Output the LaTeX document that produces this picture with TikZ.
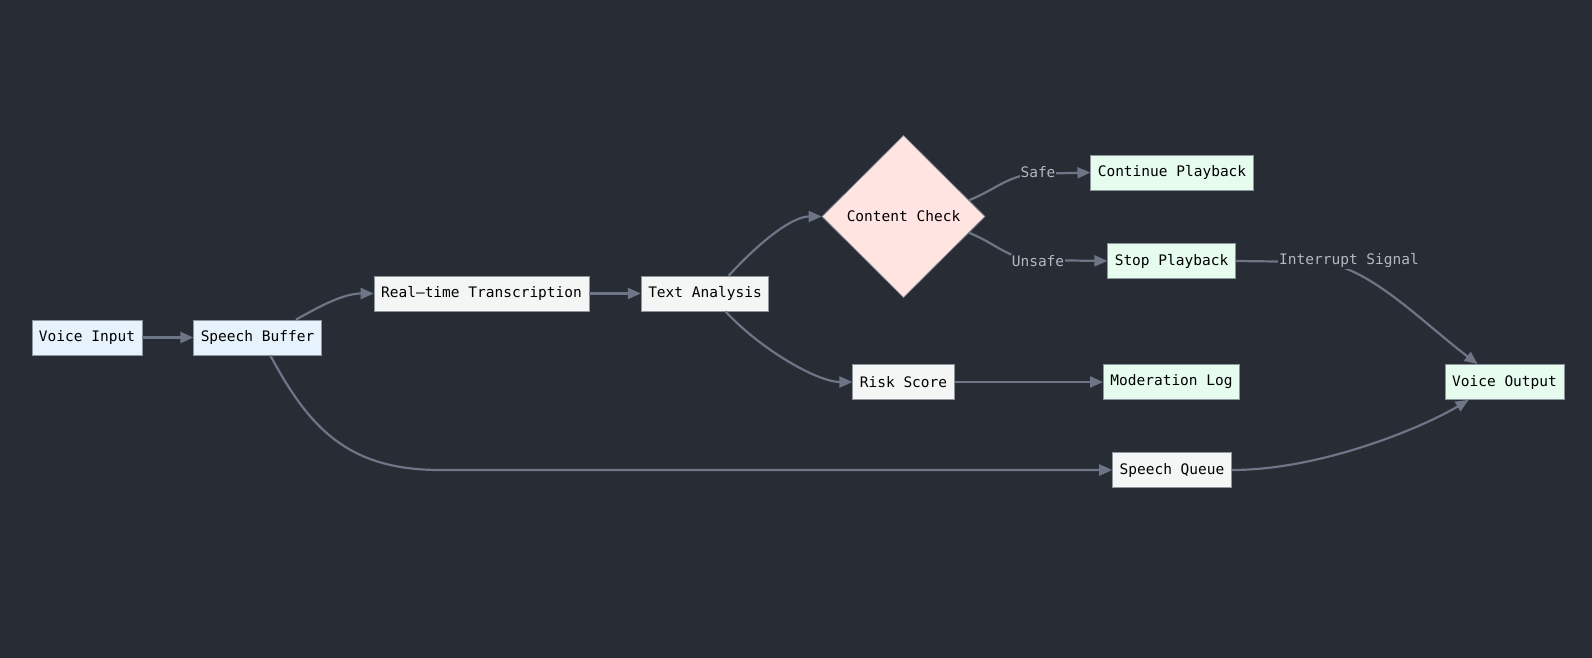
\documentclass[tikz,border=0pt]{standalone}
\usepackage{fontspec}
\newfontfamily\mono{DejaVu Sans Mono}
\usetikzlibrary{shapes.geometric,arrows.meta,calc}
\definecolor{bg}{HTML}{282C34}
\definecolor{edgec}{HTML}{6E7587}
\definecolor{lblc}{HTML}{B4B8C0}
\definecolor{bluef}{HTML}{E7F3FC}
\definecolor{grayf}{HTML}{F3F6F4}
\definecolor{greenf}{HTML}{E6FCEF}
\definecolor{pinkf}{HTML}{FFE4E1}
\definecolor{borderc}{HTML}{8E949C}
\begin{document}
\begin{tikzpicture}[x=1pt,y=-1pt,
  box/.style={draw=borderc,line width=0.8pt,minimum height=35pt,inner xsep=7pt,inner ysep=0pt,
    font=\mono\fontsize{14.5}{17}\selectfont,text=black},
  bluebox/.style={box,fill=bluef},
  graybox/.style={box,fill=grayf},
  greenbox/.style={box,fill=greenf},
  decision/.style={diamond,draw=borderc,line width=0.8pt,fill=pinkf,minimum width=163pt,minimum height=162pt,inner sep=0pt,
    font=\mono\fontsize{14.5}{17}\selectfont,text=black},
  edge/.style={draw=edgec,line width=2.2pt,-{Triangle[length=13pt,width=11pt]}},
  lbl/.style={fill=bg,text=lblc,inner sep=1pt,font=\mono\fontsize{14.5}{17}\selectfont}]
\fill[bg] (0,0) rectangle (1592,658);
\useasboundingbox (0,0) rectangle (1592,658);

\node[bluebox]  (vi) at (87,337.5)    {Voice Input};
\node[bluebox]  (sb) at (257.5,337.5) {Speech Buffer};
\node[graybox]  (rt) at (481.5,293.5) {Real–time Transcription};
\node[graybox]  (ta) at (705,293.5)   {Text Analysis};
\node[decision] (cc) at (903.5,216.5) {Content Check};
\node[greenbox] (cp) at (1172,172.5)  {Continue Playback};
\node[greenbox] (sp) at (1171.5,261)  {Stop Playback};
\node[graybox]  (rs) at (903.5,382)   {Risk Score};
\node[greenbox] (ml) at (1171.5,382)  {Moderation Log};
\node[graybox]  (sq) at (1172,470)    {Speech Queue};
\node[greenbox] (vo) at (1504.5,382)  {Voice Output};

\coordinate (safept) at (1030,174);
\coordinate (unsafept) at (1030,260);
\coordinate (intpt) at (1318,262);
\coordinate (qbend) at (440,470);

\draw[edge] (vi) -- (sb);
\draw[edge] ($(sb.north)!0.6!(sb.north east)$) .. controls +(25,-14) and +(-30,0) .. (rt.west);
\draw[edge] (rt) -- (ta);
\draw[edge] ($(ta.north)!0.37!(ta.north east)$) .. controls +(35,-38) and +(-28,0) .. (cc.west);
\draw[edge] ($(ta.south)!0.32!(ta.south east)$) .. controls +(35,38) and +(-35,0) .. (rs.west);
\draw[edge] ($(cc.east)!0.2!(cc.north)$) .. controls +(25,-10) and +(-25,4) .. (safept) -- (cp.west);
\draw[edge] ($(cc.east)!0.2!(cc.south)$) .. controls +(25,10) and +(-25,-4) .. (unsafept) -- (sp.west);
\draw[edge] (rs) -- (ml);
\draw[edge] (sp.east) -- (intpt) .. controls +(50,3) and +(-58,-44) .. ($(vo.north west)!0.55!(vo.north)$);
\draw[edge] ($(sb.south)!0.2!(sb.south east)$) .. controls +(40,75) and +(-90,0) .. (qbend) -- (sq.west);
\draw[edge] (sq.east) .. controls +(90,0) and +(-45,27) .. ($(vo.south west)!0.4!(vo.south)$);

\node[lbl] (lsafe) at (1038,172.5) {Safe};
\node[lbl] (lunsafe) at (1038,261) {Unsafe};
\node[lbl] (lint) at (1349,261) {Interrupt Signal};
\end{tikzpicture}
\end{document}
